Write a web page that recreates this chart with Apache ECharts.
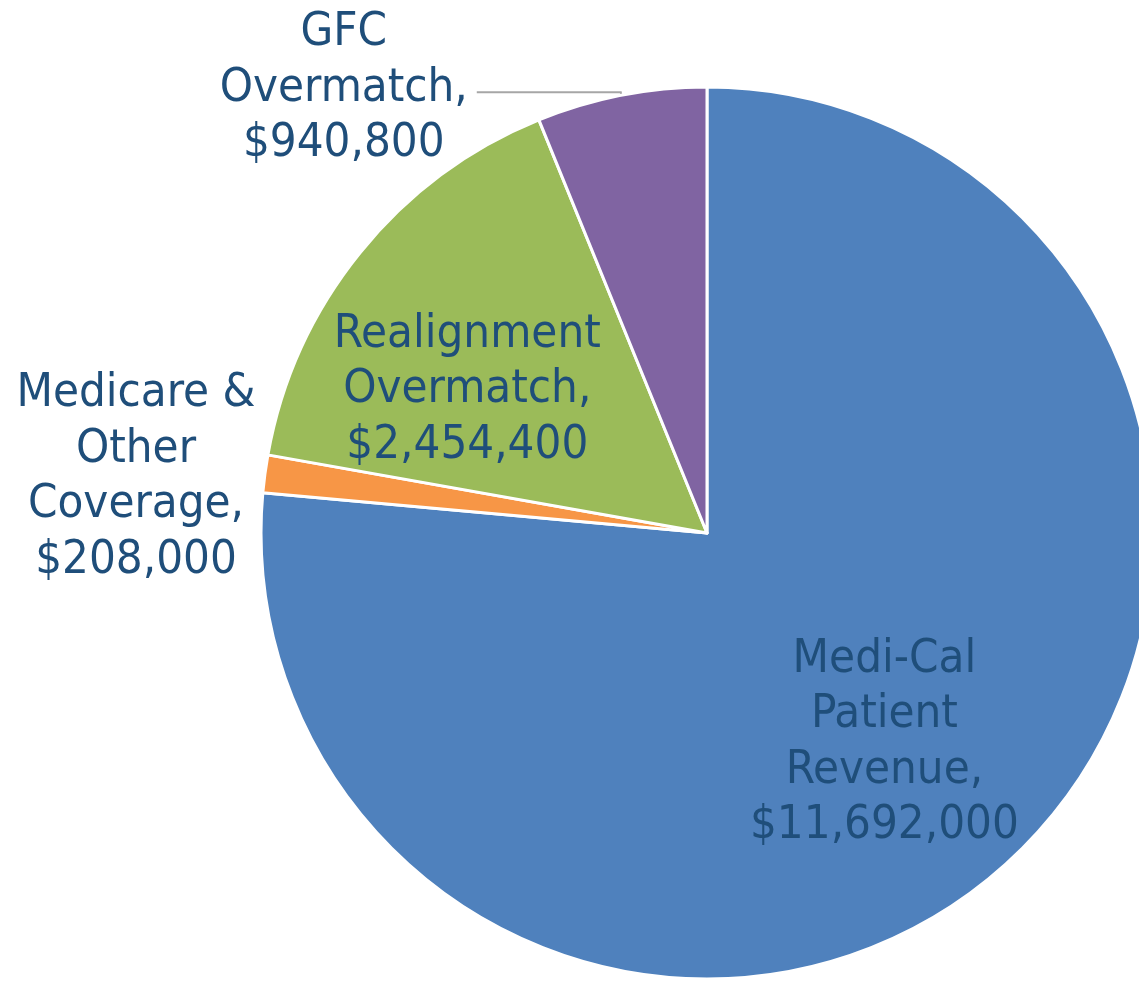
<!DOCTYPE html>
<html>
<head>
<meta charset="utf-8">
<script src="https://cdn.jsdelivr.net/npm/echarts@6/dist/echarts.min.js"></script>
<style>
html,body{margin:0;padding:0;background:#fff;}
#chart{width:1139px;height:981px;}
</style>
</head>
<body>
<div id="chart"></div>
<script>
const categories = ['Medi-Cal Patient Revenue', 'Medicare & Other Coverage', 'Realignment Overmatch', 'GFC Overmatch'];
const labelLines = [['Medi-Cal', 'Patient', 'Revenue,'], ['Medicare &', 'Other', 'Coverage,'], ['Realignment', 'Overmatch,'], ['GFC', 'Overmatch,']];
const values = [11692000, 208000, 2454400, 940800];
const colors = ['#4F81BD', '#F79646', '#9BBB59', '#8064A2'];

const FONT = '"DejaVu Sans Condensed", "DejaVu Sans", sans-serif';
const TXT = '#1F4E7A';

function fmt(v){ return '$' + v.toLocaleString('en-US'); }
function richLabel(i){
  return labelLines[i].concat([fmt(values[i])]).map(s => '{a|' + s + '}').join('\n');
}
const rich = { a: { width: 250, align: 'center', fontSize: 47, lineHeight: 55.5, color: TXT, fontFamily: FONT } };

const data = categories.map((c, i) => {
  const d = { name: c, value: values[i], itemStyle: { color: colors[i] } };
  if (i === 0 || i === 2) {
    d.label = { position: 'inside', formatter: () => richLabel(i), rich: rich };
    d.labelLine = { show: false };
  } else if (i === 1) {
    d.label = { position: 'outside', formatter: () => richLabel(i), rich: rich, distanceToLabelLine: 4 };
    d.labelLine = { show: false, length: 2, length2: 2 };
  } else {
    d.label = { position: 'outside', formatter: () => richLabel(i), rich: rich, distanceToLabelLine: 8 };
    d.labelLine = { show: true, length: 3, length2: 144, smooth: false, lineStyle: { color: '#A6A6A6', width: 2 } };
  }
  return d;
});

const labelShift = { 0: [25, 43], 1: [4, 4], 2: [-64, -1], 3: [0, -4] };

const chart = echarts.init(document.getElementById('chart'));
chart.setOption({
  animation: false,
  backgroundColor: '#ffffff',
  series: [{
    type: 'pie',
    center: [707, 533],
    radius: 446,
    startAngle: 90,
    clockwise: true,
    avoidLabelOverlap: false,
    itemStyle: { borderColor: '#ffffff', borderWidth: 3 },
    label: { show: true, fontFamily: FONT },
    emphasis: { disabled: true },
    labelLayout: function (p) {
      const s = labelShift[p.dataIndex];
      return s ? { dx: s[0], dy: s[1] } : {};
    },
    data: data
  }]
});
</script>
</body>
</html>
